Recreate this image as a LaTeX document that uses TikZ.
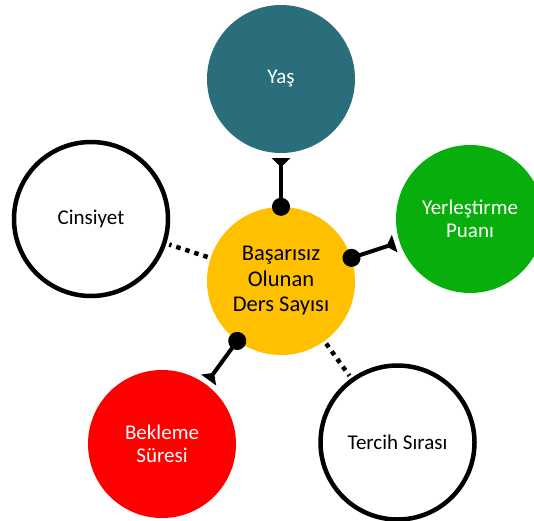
\documentclass[tikz,border=0pt]{standalone}
\usepackage{fontspec}
\setmainfont{Carlito}
\usetikzlibrary{arrows.meta}
\definecolor{yascol}{HTML}{2A6E7C}
\definecolor{puancol}{HTML}{08AF0C}
\definecolor{ortacol}{HTML}{FFC000}
\definecolor{beklecol}{HTML}{FF0000}

\begin{document}
\begin{tikzpicture}[x=1pt,y=1pt,
  bubble/.style={circle, minimum size=148pt, inner sep=0pt, align=center, font=\fontsize{21}{23.5}\selectfont},
  ring/.style={bubble, draw=black, line width=4.5pt, minimum size=154pt},
  link/.style={line width=4pt, {Circle[length=18pt]}-{Triangle[reversed,length=9pt,width=18pt]}, shorten <=-9pt, shorten >=5pt},
  dots/.style={line width=4.5pt, dash pattern=on 4.5pt off 5pt, shorten <=3pt, shorten >=3pt}]
\useasboundingbox (0,0) rectangle (534,520);
\node[bubble, fill=ortacol, font=\fontsize{22.5}{25.5}\selectfont] (basari) at (281,239) {Başarısız\\Olunan\\Ders Sayısı};
\node[bubble, fill=yascol, text=white] (yas) at (281,441) {Yaş};
\node[bubble, fill=puancol, text=white] (puan) at (470,301) {Yerleştirme\\Puanı};
\node[ring] (cinsiyet) at (91,301) {Cinsiyet};
\node[bubble, fill=beklecol, text=white] (bekleme) at (162,76) {Bekleme\\Süresi};
\node[ring] (tercih) at (397.5,77.5) {Tercih Sırası};
% baglantilar
\draw[link] (basari) -- (yas);
\draw[link] (basari) -- (puan);
\draw[link] (basari) -- (bekleme);
\draw[dots] (basari) -- (cinsiyet);
\draw[dots] (basari) -- (tercih);
\end{tikzpicture}
\end{document}
